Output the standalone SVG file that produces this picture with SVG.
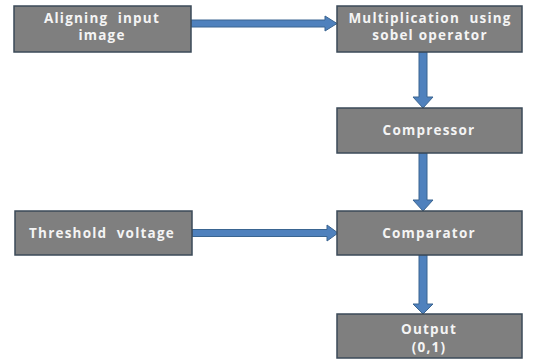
<svg xmlns="http://www.w3.org/2000/svg" width="553" height="360" viewBox="0 0 553 360">
<style>
.box{fill:#7f7f7f;stroke:#3b4a58;stroke-width:1.5}
.t{font-family:"Open Sans","Liberation Sans",sans-serif;font-weight:bold;font-size:13.5px;letter-spacing:1.2px;fill:#f4f4f4;text-anchor:middle}
.arr{fill:#4f81bd;stroke:#3a6591;stroke-width:1}
</style>
<rect width="553" height="360" fill="#ffffff"/>
<g id="connectors">
<polygon class="arr" points="191,20 325,20 325,16 337,23.5 325,31 325,27 191,27"/>
<polygon class="arr" points="419,52 427,52 427,97 433,97 423,108 413,97 419,97"/>
<polygon class="arr" points="419,153 427,153 427,200 433,200 423,211 413,200 419,200"/>
<polygon class="arr" points="192,229.5 327,229.5 327,225 338,233 327,241 327,236.5 192,236.5"/>
<polygon class="arr" points="419,255 427,255 427,304 433,304 423,314 413,304 419,304"/>
</g>
<g id="aligning">
<rect class="box" x="14" y="6" width="177" height="46"/>
<text class="t" x="102" y="23">Aligning&#160; input</text>
<text class="t" x="102" y="40">image</text>
</g>
<g id="multiplication">
<rect class="box" x="337" y="6" width="185" height="46"/>
<text class="t" x="430" y="23">Multiplication&#160; using</text>
<text class="t" x="430" y="40">sobel operator</text>
</g>
<g id="compressor">
<rect class="box" x="337" y="108" width="185" height="45"/>
<text class="t" x="429" y="135">Compressor</text>
</g>
<g id="threshold">
<rect class="box" x="15" y="211" width="177" height="44"/>
<text class="t" x="102" y="238">Threshold&#160; voltage</text>
</g>
<g id="comparator">
<rect class="box" x="337" y="211" width="185" height="44"/>
<text class="t" x="429" y="238">Comparator</text>
</g>
<g id="output">
<rect class="box" x="337" y="314" width="185" height="44"/>
<text class="t" x="429" y="334">Output</text>
<text class="t" x="429" y="352">(0,1)</text>
</g>
</svg>
